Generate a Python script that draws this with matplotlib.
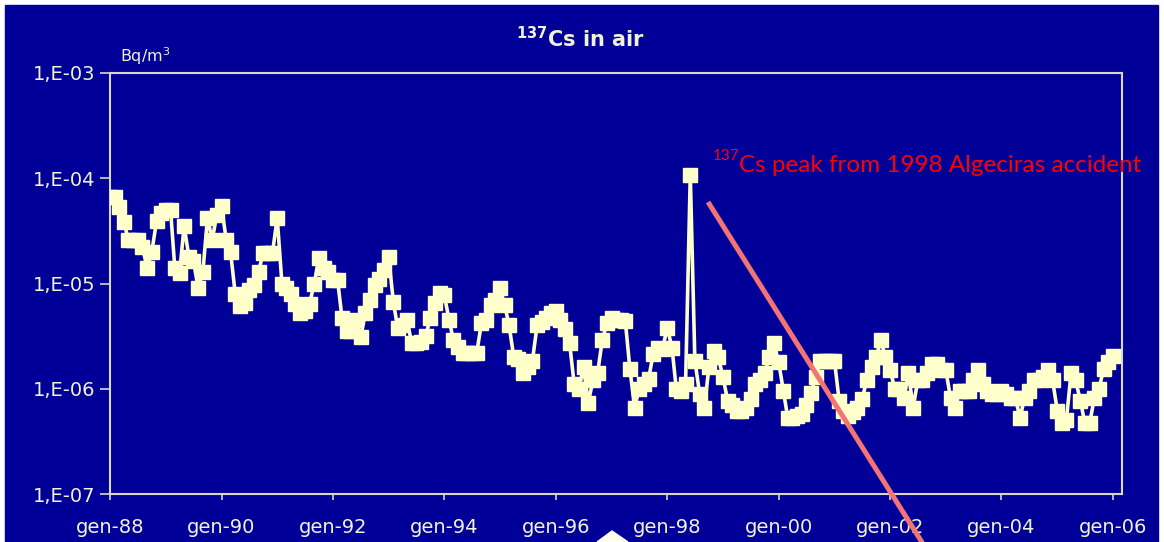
import numpy as np
import pandas as pd
import matplotlib
matplotlib.use("Agg")
import matplotlib.pyplot as plt
from matplotlib.patches import Rectangle, Polygon
from matplotlib.lines import Line2D

# Monthly 137Cs in air (Bq/m3), Jan..Dec of each year
cs_1988 = [6.6e-5, 6.6e-5, 5.3e-5, 3.8e-5, 2.6e-5, 2.6e-5, 2.6e-5, 2.2e-5, 1.4e-5, 2.0e-5, 3.9e-5, 4.7e-5]
cs_1989 = [5.0e-5, 5.0e-5, 1.4e-5, 1.25e-5, 3.5e-5, 1.8e-5, 1.65e-5, 9e-6, 1.3e-5, 4.2e-5, 2.6e-5, 4.5e-5]
cs_1990 = [5.4e-5, 2.6e-5, 2.0e-5, 8e-6, 6.1e-6, 6.5e-6, 8.6e-6, 9.6e-6, 1.3e-5, 1.95e-5, 1.95e-5, 1.95e-5]
cs_1991 = [4.2e-5, 1.0e-5, 9e-6, 8e-6, 6.4e-6, 5.2e-6, 5.5e-6, 6.4e-6, 1.0e-5, 1.75e-5, 1.4e-5, 1.3e-5]
cs_1992 = [1.07e-5, 1.07e-5, 4.7e-6, 3.5e-6, 3.5e-6, 4.5e-6, 3.1e-6, 5.2e-6, 7e-6, 9.6e-6, 1.1e-5, 1.33e-5]
cs_1993 = [1.77e-5, 6.6e-6, 3.8e-6, 4.0e-6, 4.5e-6, 2.7e-6, 2.7e-6, 2.8e-6, 3.2e-6, 4.7e-6, 6.5e-6, 8.2e-6]
cs_1994 = [7.7e-6, 4.5e-6, 2.9e-6, 2.5e-6, 2.2e-6, 2.2e-6, 2.2e-6, 2.2e-6, 4.2e-6, 4.5e-6, 6.2e-6, 7e-6]
cs_1995 = [9e-6, 6.2e-6, 4e-6, 2e-6, 1.9e-6, 1.4e-6, 1.6e-6, 1.85e-6, 4e-6, 4.3e-6, 4.7e-6, 5.2e-6]
cs_1996 = [5.5e-6, 4.5e-6, 3.7e-6, 2.7e-6, 1.1e-6, 1.0e-6, 1.6e-6, 7.4e-7, 1.2e-6, 1.4e-6, 2.9e-6, 4.2e-6]
cs_1997 = [4.7e-6, 4.5e-6, 4.5e-6, 4.4e-6, 1.55e-6, 6.6e-7, 1.0e-6, 1.1e-6, 1.25e-6, 2.15e-6, 2.45e-6, 2.4e-6]
cs_1998 = [3.8e-6, 2.45e-6, 1.0e-6, 9.6e-7, 1.1e-6, 1.07e-4, 1.85e-6, 9e-7, 6.5e-7, 1.6e-6, 2.3e-6, 2.0e-6]
cs_1999 = [1.3e-6, 7.7e-7, 7e-7, 6.2e-7, 6.2e-7, 6.6e-7, 8e-7, 1.1e-6, 1.2e-6, 1.4e-6, 2.0e-6, 2.7e-6]
cs_2000 = [1.8e-6, 9.6e-7, 5.3e-7, 5.3e-7, 5.5e-7, 5.8e-7, 7e-7, 9.2e-7, 1.3e-6, 1.85e-6, 1.85e-6, 1.85e-6]
cs_2001 = [1.85e-6, 7.7e-7, 6.2e-7, 5.5e-7, 6e-7, 6.5e-7, 8e-7, 1.2e-6, 1.6e-6, 2.0e-6, 2.9e-6, 2.0e-6]
cs_2002 = [1.5e-6, 1.0e-6, 1.0e-6, 8.2e-7, 1.4e-6, 6.6e-7, 1.2e-6, 1.2e-6, 1.4e-6, 1.7e-6, 1.7e-6, 1.5e-6]
cs_2003 = [1.5e-6, 8.2e-7, 6.6e-7, 9.6e-7, 9.6e-7, 9.6e-7, 1.2e-6, 1.5e-6, 1.1e-6, 9.6e-7, 9e-7, 9e-7]
cs_2004 = [9.6e-7, 9e-7, 8.2e-7, 8.2e-7, 5.3e-7, 8.2e-7, 9.6e-7, 1.2e-6, 1.2e-6, 1.3e-6, 1.5e-6, 1.2e-6]
cs_2005 = [6.2e-7, 4.7e-7, 5e-7, 1.4e-6, 1.2e-6, 7.7e-7, 4.7e-7, 4.7e-7, 8.2e-7, 1.0e-6, 1.55e-6, 1.8e-6]
cs_2006 = [2.05e-6]

values = (cs_1988 + cs_1989 + cs_1990 + cs_1991 + cs_1992 + cs_1993 + cs_1994
          + cs_1995 + cs_1996 + cs_1997 + cs_1998 + cs_1999 + cs_2000 + cs_2001
          + cs_2002 + cs_2003 + cs_2004 + cs_2005 + cs_2006)
months = pd.date_range("1988-01-01", periods=len(values), freq="MS")

tick_years = list(range(1988, 2007, 2))
tick_labels = ["gen-%02d" % (y % 100) for y in tick_years]
y_ticks = [1e-7, 1e-6, 1e-5, 1e-4, 1e-3]
y_labels = ["1,E-07", "1,E-06", "1,E-05", "1,E-04", "1,E-03"]

navy = "#000099"
cream = "#ffffcc"
label_col = "#f2f2d8"
W, H = 1164, 542

fig = plt.figure(figsize=(W / 100, H / 100), dpi=100)
fig.patch.set_facecolor("white")
# slide background
fig.add_artist(Rectangle((5 / W, 0), (1158 - 5) / W, 1 - 5 / H,
                         transform=fig.transFigure, color=navy, zorder=0))

ax = fig.add_axes([110 / W, 1 - 494 / H, (1122 - 110) / W, (494 - 73) / H])
ax.set_facecolor(navy)
ax.plot(months, values, color=cream, lw=2.6, marker="s", ms=9.5,
        mfc=cream, mec=cream, zorder=3)

ax.set_yscale("log")
ax.set_ylim(1e-7, 1e-3)
ax.set_yticks(y_ticks)
ax.set_yticklabels(y_labels)
ax.yaxis.set_minor_locator(matplotlib.ticker.NullLocator())

ax.set_xlim(pd.Timestamp("1988-01-01"), pd.Timestamp("2006-03-01"))
ax.set_xticks([pd.Timestamp("%d-01-01" % y) for y in tick_years])
ax.set_xticklabels(tick_labels)

for s in ax.spines.values():
    s.set_color("#d8d8c8")
    s.set_linewidth(1.5)
ax.tick_params(axis="y", colors="#d8d8c8", labelcolor=label_col, labelsize=14,
               length=7.5, width=1.2, pad=3)
ax.tick_params(axis="x", colors="#d8d8c8", labelcolor=label_col, labelsize=14,
               length=4, width=1.2, pad=13)

# title and unit
fig.text(581 / W, 1 - 47 / H, r"$^{\mathbf{137}}$Cs in air", ha="center",
         va="baseline", color=label_col, fontsize=15, fontweight="bold")
fig.text(120 / W, 1 - 62 / H, r"Bq/m$^3$", ha="left", va="baseline",
         color=label_col, fontsize=11.5)

# annotation
fig.text(713 / W, 1 - 160 / H, "137", ha="left", va="baseline",
         color="#ff0000", fontsize=11, family="Lato")
fig.text(739 / W, 1 - 172 / H, "Cs peak from 1998 Algeciras accident",
         ha="left", va="baseline", color="#ff0000", fontsize=17.5, family="Lato")
fig.add_artist(Line2D([708 / W, 930 / W], [1 - 202 / H, 1 - 555 / H],
                      transform=fig.transFigure, color="#f47474", lw=3.6,
                      solid_capstyle="butt", zorder=5))

# small pointer shape at the bottom edge
fig.add_artist(Polygon([[597 / W, 0], [612 / W, 1 - 531 / H], [628 / W, 0]],
                       closed=True, transform=fig.transFigure,
                       color="#fffff0", zorder=5))

fig.savefig("out.png", dpi=100, facecolor=fig.get_facecolor())
